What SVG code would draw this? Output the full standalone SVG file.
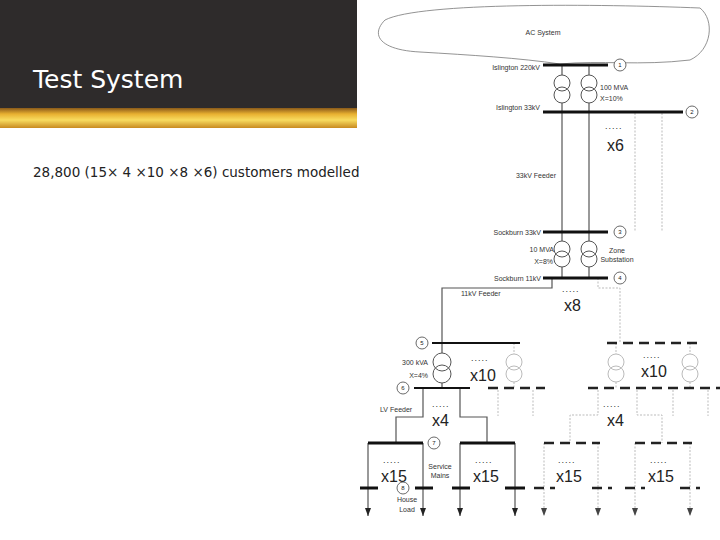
<svg xmlns="http://www.w3.org/2000/svg" width="720" height="540" viewBox="0 0 720 540">
<defs>
<linearGradient id="gold" x1="0" y1="0" x2="0" y2="1">
<stop offset="0" stop-color="#8a5a1a"/><stop offset="0.3" stop-color="#e8b030"/><stop offset="0.6" stop-color="#f8dc60"/><stop offset="1" stop-color="#c88a20"/>
</linearGradient>
<marker id="arr" viewBox="0 0 8 6" refX="8" refY="3" markerWidth="8" markerHeight="6" orient="auto" markerUnits="userSpaceOnUse"><path d="M0,0 L8,3 L0,6 Z" fill="#222"/></marker>
<marker id="arrg" viewBox="0 0 8 6" refX="8" refY="3" markerWidth="8" markerHeight="6" orient="auto" markerUnits="userSpaceOnUse"><path d="M0,0 L8,3 L0,6 Z" fill="#444"/></marker>
</defs>
<style>
.t{font-family:"Liberation Sans",Arial,sans-serif;font-size:7px;fill:#333}
.big{font-family:"Liberation Sans",Arial,sans-serif;font-size:16px;fill:#222}
.dots{font-family:"Liberation Sans",Arial,sans-serif;font-size:9px;fill:#333;letter-spacing:1px}
.bus{stroke:#111;stroke-width:3}
.ln{stroke:#555;stroke-width:1.2;fill:none}
.gl{stroke:#bbb;stroke-width:1;fill:none;stroke-dasharray:2,1.5}
.db{stroke:#222;stroke-width:2.5;stroke-dasharray:10,6}
.tx{fill:#fff;fill-opacity:0;stroke:#555;stroke-width:1}
.gtx{fill:none;stroke:#bbb;stroke-width:1}
.nc{fill:#fff;stroke:#444;stroke-width:0.8}
.nt{font-family:"Liberation Sans",Arial,sans-serif;font-size:6px;fill:#222;text-anchor:middle}
</style>
<rect width="720" height="540" fill="#fff"/>
<g id="header">
<rect x="0" y="0" width="357" height="108" fill="#2e2b2b"/>
<rect x="0" y="108" width="357" height="20" fill="url(#gold)"/>
<text x="33" y="88" font-family="DejaVu Sans,Verdana,sans-serif" font-size="25" fill="#fff">Test System</text>
<text x="33" y="177" font-family="DejaVu Sans,Verdana,sans-serif" font-size="13.5" fill="#222">28,800 (15× 4 ×10 ×8 ×6) customers modelled</text>
</g>
<g id="ac-system">
<path d="M385,20 C420,2 600,4 700,8 C715,20 712,50 690,60 C640,66 600,60 560,64 C520,58 470,55 420,52 C380,50 370,35 385,20 Z" fill="none" stroke="#777" stroke-width="0.8"/>
<text class="t" x="543" y="35" text-anchor="middle">AC System</text>
</g>
<g id="connectors">
<line class="ln" x1="562" y1="65" x2="562" y2="75"/><line class="ln" x1="562" y1="103" x2="562" y2="241"/>
<line class="ln" x1="589" y1="65" x2="589" y2="75"/><line class="ln" x1="589" y1="103" x2="589" y2="241"/>
<line class="ln" x1="562" y1="267" x2="562" y2="278"/>
<line class="ln" x1="589" y1="267" x2="589" y2="278"/>
<line class="gl" x1="635" y1="113" x2="635" y2="232"/>
<line class="gl" x1="662" y1="113" x2="662" y2="232"/>
<polyline class="ln" points="552,278 552,288 442,288 442,343"/>
<polyline class="gl" points="598,278 598,288 620,288 620,343"/>
<line class="ln" x1="442" y1="343" x2="442" y2="353"/><line class="ln" x1="442" y1="383" x2="442" y2="388"/>
<line class="gl" x1="514" y1="343" x2="514" y2="354"/><line class="gl" x1="514" y1="382" x2="514" y2="388"/>
<line class="gl" x1="616" y1="343" x2="616" y2="354"/><line class="gl" x1="616" y1="382" x2="616" y2="388"/>
<line class="gl" x1="690" y1="343" x2="690" y2="354"/><line class="gl" x1="690" y1="382" x2="690" y2="388"/>
<polyline class="ln" points="423,388 423,417 396,417 396,443"/>
<polyline class="ln" points="460,388 460,417 487,417 487,443"/>
<line class="gl" x1="498" y1="390" x2="498" y2="416"/>
<line class="gl" x1="533" y1="390" x2="533" y2="416"/>
<polyline class="gl" points="598,390 598,415 570,415 570,443"/>
<polyline class="gl" points="637,390 637,415 662,415 662,443"/>
<line class="gl" x1="673" y1="390" x2="673" y2="416"/>
<line class="gl" x1="708" y1="390" x2="708" y2="416"/>
<line class="ln" x1="368" y1="443" x2="368" y2="516" marker-end="url(#arr)"/>
<line class="ln" x1="423" y1="443" x2="423" y2="516" marker-end="url(#arr)"/>
<line class="ln" x1="460" y1="443" x2="460" y2="516" marker-end="url(#arr)"/>
<line class="ln" x1="515" y1="443" x2="515" y2="516" marker-end="url(#arr)"/>
<line class="gl" x1="544" y1="443" x2="544" y2="516" marker-end="url(#arrg)"/>
<line class="gl" x1="598" y1="443" x2="598" y2="516" marker-end="url(#arrg)"/>
<line class="gl" x1="635" y1="443" x2="635" y2="516" marker-end="url(#arrg)"/>
<line class="gl" x1="690" y1="443" x2="690" y2="516" marker-end="url(#arrg)"/>
</g>
<g id="bus1"><line class="bus" x1="543" y1="65" x2="608" y2="65" stroke-width="2.5"/><circle class="nc" cx="620" cy="65" r="6"/><text class="nt" x="620" y="67">1</text><text class="t" x="540" y="70" text-anchor="end">Islington 220kV</text></g>
<g id="tx1">
<circle class="tx" cx="562" cy="83" r="8"/><circle class="tx" cx="562" cy="95" r="8"/>
<circle class="tx" cx="589" cy="83" r="8"/><circle class="tx" cx="589" cy="95" r="8"/>
<text class="t" x="600" y="90">100 MVA</text><text class="t" x="600" y="101">X=10%</text>
</g>
<g id="bus2"><line class="bus" x1="543" y1="112" x2="683" y2="112" stroke-width="2.5"/><circle class="nc" cx="692" cy="112" r="6"/><text class="nt" x="692" y="114">2</text><text class="t" x="540" y="110" text-anchor="end">Islington 33kV</text>
<text class="dots" x="605" y="129">.....</text><text class="big" x="607" y="151">x6</text>
<text class="t" x="556" y="178" text-anchor="end">33kV Feeder</text></g>
<g id="bus3"><line class="bus" x1="543" y1="232" x2="608" y2="232" stroke-width="2.5"/><circle class="nc" cx="620" cy="232" r="6"/><text class="nt" x="620" y="234">3</text><text class="t" x="541" y="235" text-anchor="end">Sockburn 33kV</text></g>
<g id="tx2">
<circle class="tx" cx="562" cy="249" r="8"/><circle class="tx" cx="562" cy="259" r="8"/>
<circle class="tx" cx="589" cy="249" r="8"/><circle class="tx" cx="589" cy="259" r="8"/>
<text class="t" x="554" y="252" text-anchor="end">10 MVA</text><text class="t" x="553" y="264" text-anchor="end">X=8%</text>
<text class="t" x="617" y="253" text-anchor="middle">Zone</text><text class="t" x="617" y="262" text-anchor="middle">Substation</text>
</g>
<g id="bus4"><line class="bus" x1="543" y1="278" x2="608" y2="278" stroke-width="2.5"/><circle class="nc" cx="620" cy="278" r="6"/><text class="nt" x="620" y="280">4</text><text class="t" x="541" y="281" text-anchor="end">Sockburn 11kV</text>
<text class="t" x="461" y="296">11kV Feeder</text>
<text class="dots" x="562" y="292">.....</text><text class="big" x="564" y="311">x8</text></g>
<g id="bus5"><line x1="432" y1="343" x2="520" y2="343" stroke="#111" stroke-width="1.8"/><circle class="nc" cx="422" cy="343" r="6"/><text class="nt" x="422" y="345">5</text>
<line class="db" x1="607" y1="343" x2="700" y2="343"/></g>
<g id="tx3">
<circle class="tx" cx="442" cy="362" r="9"/><circle class="tx" cx="442" cy="374" r="9"/>
<circle class="gtx" cx="514" cy="362" r="8"/><circle class="gtx" cx="514" cy="374" r="8"/>
<circle class="gtx" cx="616" cy="362" r="8"/><circle class="gtx" cx="616" cy="374" r="8"/>
<circle class="gtx" cx="690" cy="362" r="8"/><circle class="gtx" cx="690" cy="374" r="8"/>
<text class="t" x="428" y="365" text-anchor="end">300 kVA</text><text class="t" x="428" y="378" text-anchor="end">X=4%</text>
<text class="dots" x="471" y="361">.....</text><text class="big" x="470" y="381">x10</text>
<text class="dots" x="643" y="358">.....</text><text class="big" x="641" y="377">x10</text>
</g>
<g id="bus6"><line x1="414" y1="388" x2="470" y2="388" stroke="#111" stroke-width="1.8"/><circle class="nc" cx="403" cy="388" r="6"/><text class="nt" x="403" y="390">6</text>
<line class="db" x1="488" y1="388" x2="545" y2="388" stroke="#888"/>
<line class="db" x1="588" y1="388" x2="720" y2="388" stroke="#888"/>
<text class="t" x="380" y="412">LV Feeder</text>
<text class="dots" x="432" y="407">.....</text><text class="big" x="432" y="426">x4</text>
<text class="dots" x="603" y="407">.....</text><text class="big" x="607" y="426">x4</text></g>
<g id="bus7">
<line class="bus" x1="368" y1="443" x2="423" y2="443"/>
<line class="bus" x1="460" y1="443" x2="515" y2="443"/>
<line class="db" x1="544" y1="443" x2="600" y2="443"/>
<line class="db" x1="635" y1="443" x2="692" y2="443"/>
<circle class="nc" cx="434" cy="443" r="6"/><text class="nt" x="434" y="445">7</text>
<text class="t" x="440" y="469" text-anchor="middle">Service</text><text class="t" x="440" y="478" text-anchor="middle">Mains</text>
<text class="dots" x="383" y="463">.....</text><text class="big" x="381" y="482">x15</text>
<text class="dots" x="475" y="463">.....</text><text class="big" x="473" y="482">x15</text>
<text class="dots" x="558" y="463">.....</text><text class="big" x="556" y="482">x15</text>
<text class="dots" x="650" y="463">.....</text><text class="big" x="648" y="482">x15</text>
</g>
<g id="bus8">
<line class="bus" x1="360" y1="488" x2="378" y2="488"/>
<line class="bus" x1="415" y1="488" x2="433" y2="488"/>
<line class="bus" x1="452" y1="488" x2="470" y2="488"/>
<line class="bus" x1="505" y1="488" x2="525" y2="488"/>
<line class="db" x1="534" y1="488" x2="555" y2="488" stroke-dasharray="8,4,2,4"/>
<line class="db" x1="592" y1="488" x2="612" y2="488" stroke-dasharray="8,4,2,4"/>
<line class="db" x1="625" y1="488" x2="645" y2="488" stroke-dasharray="8,4,2,4"/>
<line class="db" x1="680" y1="488" x2="700" y2="488" stroke-dasharray="8,4,2,4"/>
<circle class="nc" cx="403" cy="488" r="6"/><text class="nt" x="403" y="490">8</text>
<text class="t" x="407" y="502" text-anchor="middle">House</text><text class="t" x="407" y="512" text-anchor="middle" fill="#888">Load</text>
</g>
</svg>
